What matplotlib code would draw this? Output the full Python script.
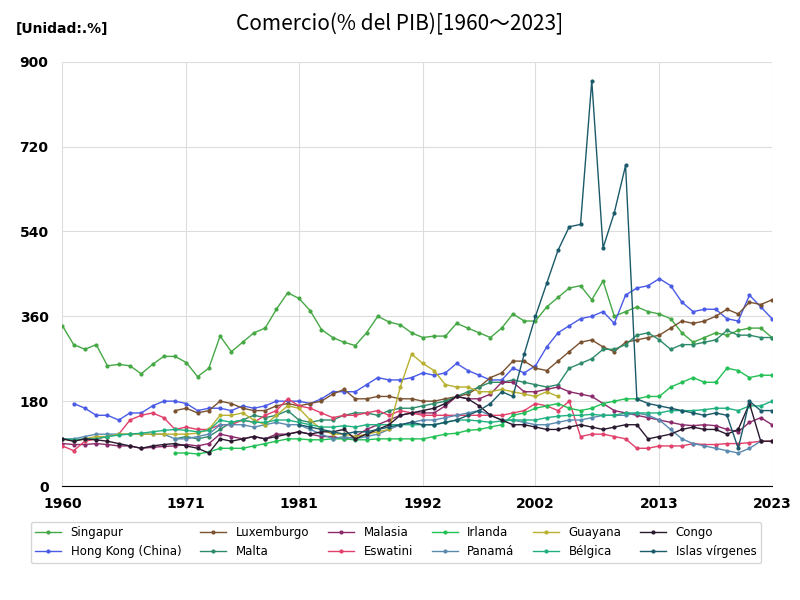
import matplotlib
matplotlib.use("Agg")
import matplotlib.pyplot as plt
import numpy as np

singapur = [340,300,290,300,255,258,255,238,258,275,275,262,232,250,318,285,305,325,335,375,410,398,372,332,315,305,298,325,360,348,342,325,315,318,318,345,335,325,315,335,365,350,350,380,400,420,425,395,435,360,370,380,370,365,355,325,305,315,325,320,330,335,335,315]
hongkong = [175,165,150,150,140,155,155,170,180,180,175,160,165,165,160,170,165,170,180,180,180,175,185,200,200,200,215,230,225,225,230,240,235,240,260,245,235,225,225,250,240,255,295,325,340,355,360,370,345,405,420,425,440,425,390,370,375,375,355,350,405,380,355]
luxemburgo = [160,165,155,160,180,175,165,160,160,170,175,170,175,180,195,205,185,185,190,190,185,185,180,180,185,190,195,210,230,240,265,265,250,245,265,285,305,310,295,285,305,310,315,320,335,350,345,350,360,375,365,390,385,395]
malta = [100,105,100,105,120,135,140,150,145,150,160,140,135,140,140,150,155,155,150,160,165,165,170,175,180,190,200,210,220,220,225,220,215,210,215,250,260,270,290,290,300,320,325,310,290,300,300,305,310,330,320,320,315,315]
malasia = [90,88,88,90,88,85,85,80,82,84,85,88,85,90,110,105,100,105,100,110,110,115,110,105,105,100,105,120,130,140,150,155,155,155,170,190,185,185,195,220,220,200,200,205,210,200,195,190,175,160,155,150,145,140,135,130,128,130,128,120,115,135,145,130]
eswatini = [85,75,95,100,105,110,140,150,155,145,120,125,120,120,130,130,140,135,150,160,185,170,165,155,145,150,150,155,160,150,160,155,150,150,150,150,150,150,150,150,155,160,175,170,160,180,105,110,110,105,100,80,80,85,85,85,90,88,88,90,90,92,95,95]
irlanda = [70,70,68,72,80,80,80,85,90,95,100,100,98,98,100,100,98,98,100,100,100,100,100,105,110,112,118,120,125,130,150,155,165,170,175,165,160,165,175,180,185,185,190,190,210,220,230,220,220,250,245,230,235,235]
panama = [100,100,105,110,110,110,110,110,110,110,100,100,105,110,130,130,130,125,130,135,130,130,120,110,100,105,100,105,110,120,130,135,140,140,145,150,155,160,150,140,140,135,130,130,135,140,140,145,150,150,150,155,150,140,120,100,90,85,80,75,70,80,95]
guayana = [100,95,100,105,105,110,110,110,110,110,110,110,112,120,150,150,155,140,130,150,170,165,140,120,110,110,105,110,115,120,210,280,260,245,215,210,210,200,200,205,200,195,190,200,190]
belgica = [100,98,100,100,105,108,110,112,115,118,120,118,115,118,140,135,140,135,135,140,140,135,130,125,125,128,125,130,130,130,130,130,130,130,135,140,140,138,135,138,140,140,140,145,148,150,150,152,150,150,155,155,155,155,160,160,160,162,165,165,160,170,170,180]
congo = [100,95,100,98,95,90,85,80,85,88,90,85,80,70,100,95,100,105,100,105,110,115,110,115,115,120,100,110,120,130,150,155,160,165,175,190,185,170,150,140,130,130,125,120,120,125,130,125,120,125,130,130,100,105,110,120,125,120,120,110,120,175,95,95]
islas = [130,125,120,115,110,115,115,120,125,130,135,130,130,135,140,150,160,175,200,190,280,360,430,500,550,555,860,505,580,680,185,175,170,165,160,155,150,155,150,80,180,160,160]

series = [
    ("Singapur", singapur, 1960, "#45a845"),
    ("Hong Kong (China)", hongkong, 1961, "#4a5be6"),
    ("Luxemburgo", luxemburgo, 1970, "#7a5230"),
    ("Malta", malta, 1970, "#2e8b6a"),
    ("Malasia", malasia, 1960, "#8b2a6a"),
    ("Eswatini", eswatini, 1960, "#e0406a"),
    ("Irlanda", irlanda, 1970, "#22c055"),
    ("Panamá", panama, 1960, "#5a8ab0"),
    ("Guayana", guayana, 1960, "#b8b030"),
    ("Bélgica", belgica, 1960, "#20b080"),
    ("Congo", congo, 1960, "#2a1a30"),
    ("Islas vírgenes", islas, 1981, "#1a5a6a"),
]

fig = plt.figure(figsize=(8, 6), dpi=100)
ax = fig.add_axes([0.078, 0.19, 0.887, 0.707])
for name, vals, start, col in series:
    x = np.arange(start, start + len(vals))
    ax.plot(x, vals, color=col, lw=1.0, marker="o", ms=2, label=name)

ax.set_xlim(1960, 2023)
ax.set_ylim(0, 900)
ax.set_xticks([1960, 1971, 1981, 1992, 2002, 2013, 2023])
ax.set_yticks([0, 180, 360, 540, 720, 900])
ax.grid(True, color="#dddddd", lw=0.8)
for s in ["top", "right", "left"]:
    ax.spines[s].set_visible(False)
ax.tick_params(axis="x", length=0, labelsize=10, pad=8)
ax.tick_params(axis="y", length=0, labelsize=10, pad=10)
for lab in ax.get_xticklabels() + ax.get_yticklabels():
    lab.set_fontweight("bold")
fig.text(0.5, 0.95, "Comercio(% del PIB)[1960～2023]", ha="center", fontsize=15, fontfamily="Noto Sans CJK JP")
fig.text(0.02, 0.945, "[Unidad:.%]", fontsize=10, fontweight="bold")
ax.legend(loc="upper center", bbox_to_anchor=(0.47, -0.07), ncol=6, fontsize=8.5, frameon=True,
          handlelength=2.2, columnspacing=1.6)
fig.savefig("out.png")
